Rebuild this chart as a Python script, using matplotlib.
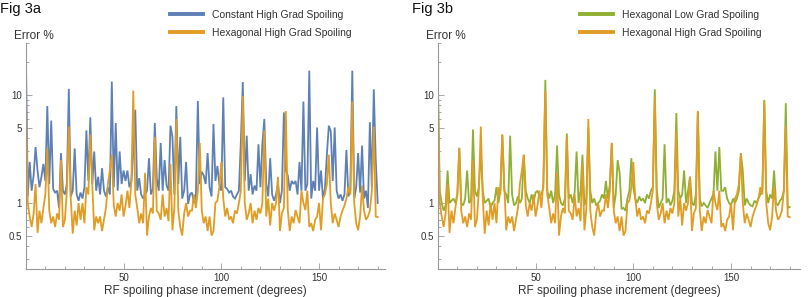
import matplotlib
matplotlib.use("Agg")
import matplotlib.pyplot as plt
from matplotlib.lines import Line2D
from matplotlib.ticker import FixedLocator, NullFormatter, FixedFormatter

# RF spoiling phase increment (degrees), 1-degree steps
phase_deg = list(range(0, 181))

# Error % -- Constant High Grad Spoiling (Fig 3a, blue)
const_high = [
    27, 1.15, 2.4, 1.3, 1.8, 3.3, 2.0, 1.4, 1.75, 2.3,
    1.6, 7.9, 1.5, 5.8, 1.35, 1.25, 1.3, 0.9, 2.9, 1.3,
    1.2, 1.5, 11.4, 1.15, 1.3, 3.2, 1.2, 1.05, 1.25, 1.1,
    1.4, 4.7, 1.6, 6.2, 1.5, 3.0, 1.3, 1.75, 1.2, 2.1,
    1.3, 1.15, 1.4, 1.2, 13.3, 1.4, 5.5, 1.3, 3.0, 1.5,
    2.0, 1.6, 2.0, 1.4, 1.6, 3.0, 7.3, 1.3, 1.7, 1.2,
    1.1, 1.2, 1.3, 2.6, 1.2, 1.35, 5.5, 1.7, 1.3, 3.6,
    1.3, 2.5, 1.45, 1.3, 5.2, 4.1, 1.2, 7.9, 1.5, 4.1,
    1.1, 1.3, 2.4, 0.98, 1.2, 1.25, 1.0, 1.15, 8.8, 1.5,
    1.95, 1.8, 1.5, 2.9, 1.4, 1.15, 5.4, 1.6, 2.2, 1.5,
    1.3, 9.5, 1.4, 1.35, 1.25, 1.3, 1.15, 1.1, 1.2, 1.3,
    3.7, 13.2, 1.6, 4.2, 1.3, 1.85, 1.2, 1.45, 1.3, 3.5,
    1.4, 3.5, 6.0, 1.5, 1.15, 2.6, 1.2, 1.05, 1.2, 1.5,
    1.0, 1.3, 6.9, 2.0, 1.8, 1.3, 1.6, 1.5, 1.6, 1.2,
    2.4, 1.3, 8.7, 1.3, 1.5, 16.8, 1.1, 1.6, 1.3, 5.0,
    1.3, 2.0, 1.1, 1.35, 2.8, 5.2, 4.6, 1.6, 5.0, 1.3,
    1.1, 1.2, 1.05, 1.2, 3.1, 1.15, 1.3, 16.8, 1.1, 1.4,
    2.9, 1.25, 3.4, 1.1, 1.3, 0.9, 5.6, 1.4, 11.3, 2.5,
    1.0,
]

# Error % -- Hexagonal High Grad Spoiling (orange, both panels)
hex_high = [
    11.9, 1.0, 0.75, 0.6, 0.8, 1.5, 0.53, 0.85, 0.65, 0.9,
    1.2, 3.2, 0.85, 0.65, 0.75, 0.6, 0.8, 0.7, 2.5, 0.6,
    0.7, 1.3, 5.1, 1.1, 0.52, 0.85, 0.62, 1.0, 0.7, 1.0,
    0.65, 1.4, 1.2, 4.3, 1.5, 0.56, 0.75, 0.65, 0.75, 0.55,
    0.7, 0.9, 1.5, 2.0, 2.8, 0.95, 0.75, 1.0, 0.85, 1.2,
    0.75, 0.95, 1.3, 0.9, 1.6, 11.0, 1.2, 0.9, 0.65, 0.8,
    0.65, 1.9, 0.5, 0.75, 0.9, 0.8, 4.1, 0.85, 0.8, 0.7,
    1.2, 0.75, 0.9, 0.68, 2.3, 0.56, 0.9, 6.0, 0.85, 0.6,
    0.5, 0.8, 1.0, 0.75, 0.85, 0.85, 1.2, 0.9, 1.3, 3.6,
    0.85, 0.65, 0.75, 0.55, 0.75, 0.5, 0.55, 1.0, 1.05, 1.4,
    2.4, 1.1, 0.75, 0.9, 0.7, 0.75, 0.65, 0.85, 0.8, 1.0,
    1.3, 9.8, 1.0, 0.7, 0.8, 1.0, 0.65, 0.85, 0.7, 0.9,
    0.8, 1.0, 4.7, 0.75, 1.1, 0.62, 1.0, 0.85, 1.0, 1.75,
    0.55, 0.8, 0.9, 7.1, 0.86, 0.55, 0.75, 0.65, 0.86, 0.75,
    0.65, 1.3, 1.0, 0.86, 1.3, 0.6, 0.65, 0.55, 0.7, 0.75,
    1.0, 0.56, 1.1, 1.2, 1.5, 2.8, 1.0, 0.65, 0.8, 0.7,
    0.6, 0.75, 0.85, 0.95, 1.1, 1.4, 1.2, 8.7, 1.0, 0.65,
    0.56, 0.75, 1.45, 0.85, 0.7, 0.75, 0.85, 1.3, 5.1, 0.75,
    0.74,
]

# Error % -- Hexagonal Low Grad Spoiling (Fig 3b, green)
hex_low = [
    15.3, 1.3, 1.0, 0.85, 0.95, 2.0, 1.0, 1.05, 1.1, 1.0,
    1.2, 3.25, 1.0, 0.95, 1.1, 2.0, 1.0, 1.05, 4.8, 1.3,
    1.15, 1.4, 3.0, 1.3, 1.0, 1.05, 1.1, 0.9, 1.0, 1.05,
    1.4, 1.0, 1.3, 4.3, 1.3, 1.2, 1.0, 4.2, 1.2, 0.95,
    1.0, 1.15, 1.0, 1.1, 2.8, 1.3, 1.1, 1.0, 1.2, 1.0,
    1.25, 1.3, 1.15, 1.2, 1.4, 13.8, 1.3, 1.1, 1.3, 1.0,
    1.2, 3.4, 1.2, 1.0, 0.95, 1.1, 4.4, 1.1, 1.2, 1.0,
    1.25, 3.0, 1.0, 1.3, 2.8, 0.95, 1.1, 5.0, 1.3, 1.0,
    1.1, 0.95, 1.0, 1.05, 1.2, 1.1, 1.6, 1.1, 1.5, 3.6,
    0.9, 1.2, 2.5, 1.9, 0.88, 0.9, 0.85, 1.1, 1.3, 2.6,
    1.4, 1.1, 1.0, 1.15, 1.05, 1.1, 1.0, 1.2, 1.1, 1.3,
    1.4, 11.3, 1.35, 0.9, 1.0, 1.1, 3.5, 1.0, 1.1, 0.95,
    1.05, 1.3, 6.8, 1.3, 1.1, 1.2, 2.0, 1.0, 1.3, 1.75,
    1.0, 0.95, 1.2, 7.0, 1.1, 0.93, 1.0, 0.95, 0.9, 1.0,
    1.1, 1.2, 3.0, 1.3, 3.3, 1.3, 1.3, 1.4, 1.1, 1.0,
    0.95, 1.1, 1.0, 1.1, 1.3, 2.9, 2.0, 0.95, 1.1, 1.0,
    0.95, 0.93, 1.05, 1.0, 1.1, 1.2, 1.3, 9.0, 1.3, 1.0,
    1.2, 1.1, 2.0, 1.0, 0.95, 1.05, 1.1, 1.3, 8.4, 0.9,
    0.92,
]

x_ticks = [50, 100, 150]
y_ticks = [0.5, 1, 5, 10]
y_tick_labels = ["0.5", "1", "5", "10"]

BLUE = "#5E81B5"
ORANGE = "#E19C24"
GREEN = "#8FB032"
AXC = "#999999"
TXT = "#333333"

plt.rcParams["font.family"] = ["Liberation Sans", "DejaVu Sans"]

W, H = 809, 297
fig = plt.figure(figsize=(W / 100, H / 100), dpi=100)

panels = [
    dict(left=25.8, right=385, title="Fig 3a",
         series=[("Constant High Grad Spoiling", const_high, BLUE),
                 ("Hexagonal High Grad Spoiling", hex_high, ORANGE)],
         leg_x=170),
    dict(left=437.8, right=800, title="Fig 3b",
         series=[("Hexagonal Low Grad Spoiling", hex_low, GREEN),
                 ("Hexagonal High Grad Spoiling", hex_high, ORANGE)],
         leg_x=580),
]

ax_top_px = 43
ax_bot_px = 269

for p in panels:
    ax = fig.add_axes([p["left"] / W, 1 - ax_bot_px / H,
                       (p["right"] - p["left"]) / W, (ax_bot_px - ax_top_px) / H])
    for label, vals, col in p["series"]:
        ax.plot(phase_deg, vals, color=col, lw=1.3, solid_joinstyle="miter")
    ax.set_yscale("log")
    ax.set_ylim(0.245, 30.3)
    ax.set_xlim(0, (p["right"] - p["left"]) / 1.955)
    for s in ["top", "right"]:
        ax.spines[s].set_visible(False)
    for s in ["left", "bottom"]:
        ax.spines[s].set_color(AXC)
        ax.spines[s].set_linewidth(0.8)
    ax.xaxis.set_major_locator(FixedLocator(x_ticks))
    ax.xaxis.set_minor_locator(FixedLocator([v for v in range(10, 181, 10) if v not in x_ticks]))
    ax.yaxis.set_major_locator(FixedLocator(y_ticks))
    ax.yaxis.set_major_formatter(FixedFormatter(y_tick_labels))
    ax.yaxis.set_minor_locator(FixedLocator([0.3, 0.4, 0.6, 0.7, 0.8, 0.9, 2, 3, 4, 6, 7, 8, 9, 20, 30]))
    ax.yaxis.set_minor_formatter(NullFormatter())
    ax.tick_params(which="both", direction="in", color=AXC, width=0.6,
                   labelsize=7, labelcolor=TXT, pad=3)
    ax.tick_params(which="major", length=4)
    ax.tick_params(which="minor", length=2.5)
    ax.set_xlabel("RF spoiling phase increment (degrees)", fontsize=8.5, color=TXT, labelpad=1.5)
    ax.patch.set_alpha(0)

    fig.text((p["left"] - 12) / W, 1 - 36 / H, "Error %", fontsize=8.5, color=TXT,
             ha="left", va="center")
    fig.text((p["left"] - 26) / W, 1 - 9 / H, p["title"], fontsize=10.5, color="#111111",
             ha="left", va="center")

    handles = [Line2D([0], [0], color=c, lw=2.8) for _, _, c in p["series"]]
    labels = [l for l, _, _ in p["series"]]
    fig.legend(handles, labels, loc="upper left",
               bbox_to_anchor=(p["leg_x"] / W, 1 - 10 / H),
               bbox_transform=fig.transFigure, frameon=False,
               fontsize=7.5, handlelength=3.2, handletextpad=0.8,
               labelspacing=0.75, borderpad=0, borderaxespad=0,
               labelcolor=TXT)

fig.savefig("out.png", dpi=100)
